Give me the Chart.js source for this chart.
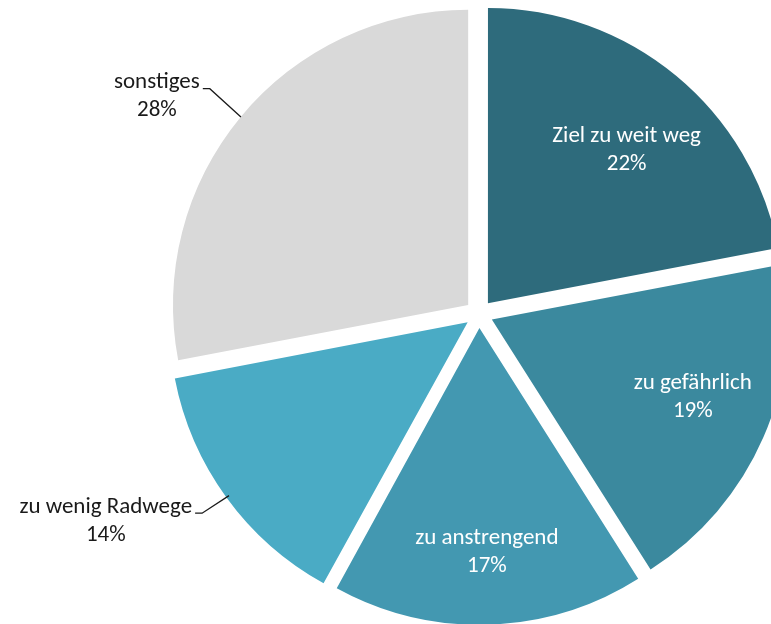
<!DOCTYPE html>
<html lang="de">
<head>
<meta charset="utf-8">
<title>Gründe gegen das Fahrrad</title>
<script src="https://cdn.jsdelivr.net/npm/chart.js@4.4.1/dist/chart.umd.min.js"></script>
<style>
  html, body { margin: 0; padding: 0; background: #ffffff; }
  #wrap { width: 771px; height: 624px; overflow: hidden; }
</style>
</head>
<body>
<div id="wrap"><canvas id="pie" width="771" height="624"></canvas></div>
<script>
// Reasons, clockwise from 12 o'clock
const categories = ['Ziel zu weit weg', 'zu gefährlich', 'zu anstrengend', 'zu wenig Radwege', 'sonstiges'];
const shares = [22, 19, 17, 14, 28];
const sliceColors = ['#2e6b7c', '#3b899e', '#4398b1', '#4aabc5', '#d9d9d9'];

// Where each slice label sits: angle in degrees clockwise from 12 o'clock,
// distance as a fraction of the radius; outside labels get a leader line.
const labelPlacement = [
  { angle: 42.2,  dist: 0.70, outside: false },
  { angle: 111.1, dist: 0.73, outside: false },
  { angle: 178.1, dist: 0.76, outside: false },
  { angle: 241.2, dist: 1.40, outside: true  },
  { angle: 303.8, dist: 1.27, outside: true  }
];

const SLICE_OFFSET = 56;      // Chart.js shifts each arc by offset / 4
const PIE_RADIUS = 295;
const FONT_FAMILY = "Carlito, Calibri, Lato, 'Noto Sans', sans-serif";
const FONT_SIZE = 23;
const LINE_GAP = 28;

const sliceLabels = {
  id: 'sliceLabels',
  afterDatasetsDraw(chart) {
    const meta = chart.getDatasetMeta(0);
    const ctx = chart.ctx;
    ctx.save();
    ctx.font = FONT_SIZE + 'px ' + FONT_FAMILY;
    ctx.textAlign = 'center';
    ctx.textBaseline = 'middle';
    meta.data.forEach((arc, i) => {
      const p = arc.getProps(['x', 'y', 'startAngle', 'endAngle', 'outerRadius'], true);
      const mid = (p.startAngle + p.endAngle) / 2;
      const shift = SLICE_OFFSET / 4;
      const cx = p.x + Math.cos(mid) * shift;
      const cy = p.y + Math.sin(mid) * shift;
      const pl = labelPlacement[i];
      const a = (pl.angle - 90) * Math.PI / 180;
      const lx = cx + Math.cos(a) * pl.dist * p.outerRadius;
      const ly = cy + Math.sin(a) * pl.dist * p.outerRadius;
      const lines = [chart.data.labels[i], chart.data.datasets[0].data[i] + '%'];

      ctx.fillStyle = pl.outside ? '#1a1a1a' : '#ffffff';
      ctx.fillText(lines[0], lx, ly - LINE_GAP / 2);
      ctx.fillText(lines[1], lx, ly + LINE_GAP / 2);

      if (pl.outside) {
        const w1 = ctx.measureText(lines[0]).width;
        const hx = lx + w1 / 2 + 3;
        const hy = ly - LINE_GAP / 2 + 6;
        const ex = cx + Math.cos(mid) * p.outerRadius;
        const ey = cy + Math.sin(mid) * p.outerRadius;
        ctx.beginPath();
        ctx.moveTo(hx, hy);
        ctx.lineTo(hx + 7, hy);
        ctx.lineTo(ex, ey);
        ctx.strokeStyle = '#1a1a1a';
        ctx.lineWidth = 1.3;
        ctx.stroke();
      }
    });
    ctx.restore();
  }
};

new Chart(document.getElementById('pie'), {
  type: 'pie',
  data: {
    labels: categories,
    datasets: [{
      data: shares,
      backgroundColor: sliceColors,
      borderWidth: 0,
      offset: SLICE_OFFSET,
      hoverOffset: SLICE_OFFSET,
      clip: false
    }]
  },
  options: {
    responsive: false,
    animation: false,
    events: [],
    radius: PIE_RADIUS,
    layout: { padding: { left: 187, right: 0, top: 4, bottom: 0 } },
    plugins: {
      legend: { display: false },
      tooltip: { enabled: false }
    }
  },
  plugins: [sliceLabels]
});
</script>
</body>
</html>
